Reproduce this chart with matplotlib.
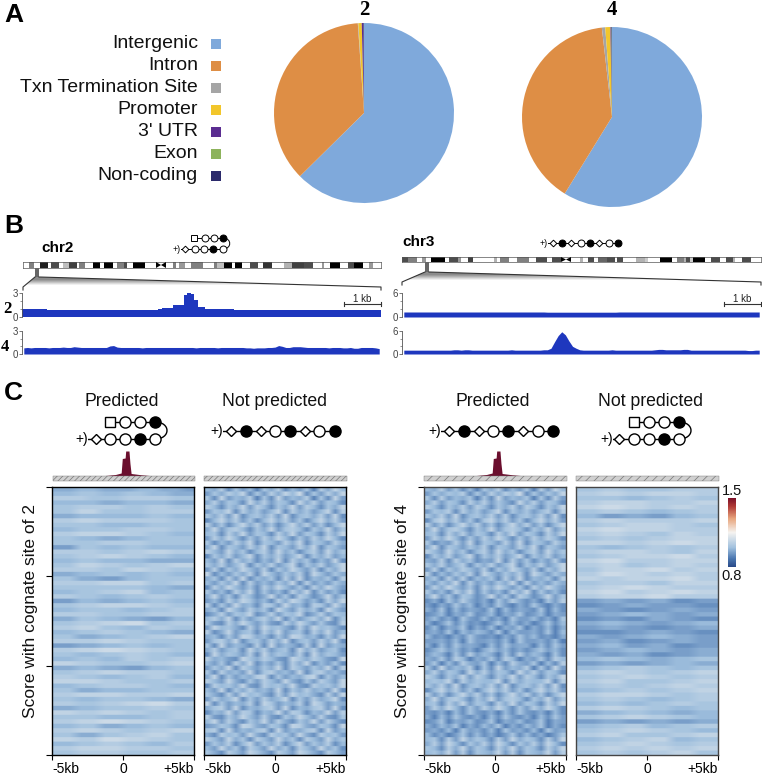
import matplotlib
matplotlib.use("Agg")
import matplotlib.pyplot as plt
import numpy as np
from matplotlib.colors import LinearSegmentedColormap
from matplotlib.patches import Rectangle, PathPatch, Polygon
from matplotlib.path import Path
from matplotlib.transforms import ScaledTranslation

plt.rcParams['font.family'] = ['Liberation Sans', 'DejaVu Sans']
plt.rcParams['hatch.linewidth'] = 0.5

W, H = 762, 777

# panel A
pie_labels = ["Intergenic", "Intron", "Txn Termination Site", "Promoter", "3' UTR", "Exon", "Non-coding"]
pie_colors = ["#7FA9DB", "#DE8E45", "#A5A5A5", "#F2C62B", "#5B2D91", "#8DB35C", "#2B2A6B"]
pie_2 = [62.6, 36.3, 0.1, 0.6, 0.3, 0.0, 0.1]
pie_4 = [58.8, 39.4, 0.6, 0.9, 0.1, 0.1, 0.1]

# panel B, coverage in 100 bins over the 10 kb window
cov_chr2_2 = [0.95, 0.95, 0.95, 0.95, 0.95, 0.95, 0.95, 0.9, 0.85, 0.85,
              0.85, 0.85, 0.85, 0.85, 0.85, 0.85, 0.85, 0.85, 0.9, 0.9,
              0.9, 0.9, 0.9, 0.9, 0.9, 0.9, 0.9, 0.9, 0.9, 0.9,
              0.9, 0.9, 0.9, 0.9, 0.9, 0.9, 0.9, 0.9, 1.0, 1.1,
              1.1, 1.1, 1.45, 1.45, 1.45, 2.8, 3.05, 2.9, 2.1, 1.2,
              1.2, 0.95, 0.95, 0.95, 0.95, 0.95, 0.95, 0.95, 0.95, 0.9,
              0.9, 0.85, 0.85, 0.85, 0.85, 0.85, 0.85, 0.85, 0.85, 0.85,
              0.85, 0.85, 0.85, 0.85, 0.85, 0.85, 0.85, 0.85, 0.85, 0.85,
              0.85, 0.85, 0.85, 0.85, 0.85, 0.85, 0.85, 0.85, 0.85, 0.85,
              0.85, 0.85, 0.85, 0.85, 0.85, 0.85, 0.85, 0.85, 0.85, 0.85]
cov_chr2_4 = [0.8, 0.85, 0.8, 0.85, 0.85, 0.85, 0.85, 0.8, 0.85, 0.85,
              0.85, 0.9, 0.85, 0.85, 0.95, 0.9, 0.85, 0.85, 0.85, 0.85,
              0.85, 0.85, 0.85, 0.85, 1.05, 1.1, 0.9, 0.85, 0.85, 0.85,
              0.85, 0.85, 0.85, 0.8, 0.85, 0.85, 0.85, 0.85, 0.85, 0.85,
              0.85, 0.85, 0.85, 0.85, 0.85, 0.85, 0.85, 0.85, 0.8, 0.85,
              0.85, 0.85, 0.85, 0.85, 0.8, 0.85, 0.85, 0.85, 0.85, 0.85,
              0.85, 0.85, 0.8, 0.8, 0.75, 0.8, 0.8, 0.8, 0.85, 0.85,
              0.9, 1.1, 1.0, 0.85, 0.85, 0.95, 0.95, 0.95, 0.9, 0.85,
              0.85, 0.85, 0.85, 0.85, 0.85, 0.8, 0.85, 0.85, 0.85, 0.8,
              0.8, 0.85, 0.75, 0.75, 0.85, 0.85, 0.85, 0.85, 0.8, 0.7]
cov_chr3_2 = [1.25, 1.25, 1.25, 1.25, 1.25, 1.25, 1.25, 1.25, 1.25, 1.25,
              1.25, 1.25, 1.25, 1.25, 1.25, 1.25, 1.25, 1.25, 1.25, 1.25,
              1.25, 1.25, 1.25, 1.25, 1.25, 1.25, 1.25, 1.25, 1.25, 1.25,
              1.25, 1.25, 1.25, 1.25, 1.25, 1.25, 1.25, 1.25, 1.25, 1.25,
              1.2, 1.2, 1.2, 1.2, 1.2, 1.2, 1.2, 1.2, 1.2, 1.2,
              1.2, 1.2, 1.2, 1.2, 1.2, 1.2, 1.2, 1.2, 1.2, 1.2,
              1.25, 1.25, 1.25, 1.25, 1.25, 1.25, 1.25, 1.25, 1.25, 1.25,
              1.25, 1.25, 1.25, 1.25, 1.25, 1.25, 1.25, 1.25, 1.25, 1.25,
              1.25, 1.25, 1.25, 1.25, 1.25, 1.25, 1.25, 1.25, 1.25, 1.25,
              1.25, 1.25, 1.25, 1.25, 1.25, 1.25, 1.25, 1.25, 1.25, 1.25]
cov_chr3_4 = [1.0, 1.0, 1.0, 1.0, 1.0, 1.0, 1.0, 1.0, 1.0, 1.0,
              1.0, 1.0, 1.0, 1.0, 1.1, 1.1, 1.0, 1.1, 1.1, 1.0,
              1.0, 1.0, 1.0, 1.0, 1.0, 1.0, 1.0, 1.0, 1.0, 1.0,
              1.1, 1.0, 1.0, 1.0, 1.0, 1.0, 1.0, 1.0, 1.0, 1.1,
              1.1, 1.5, 3.2, 4.8, 5.8, 5.0, 3.4, 2.0, 1.5, 1.1,
              1.0, 1.0, 1.0, 1.0, 1.0, 1.0, 1.0, 1.0, 1.1, 1.0,
              1.0, 1.0, 1.0, 1.0, 1.0, 1.0, 1.0, 1.0, 1.0, 1.0,
              1.1, 1.2, 1.2, 1.1, 1.1, 1.1, 1.1, 1.1, 1.2, 1.2,
              1.0, 1.0, 1.0, 1.0, 1.0, 1.0, 1.0, 1.0, 1.0, 1.0,
              1.0, 1.0, 1.0, 1.0, 1.0, 1.0, 0.9, 0.9, 1.0, 1.0]

# ideogram bands, edge positions and grey shade (1 is white)
chr2_edges = [69, 88, 103, 120, 145, 153, 177, 190, 207, 230, 238, 254, 280, 300, 311, 338, 352, 372, 380, 399, 435, 468,
              495, 520, 527, 538, 555, 573, 607, 642, 650, 672, 696, 703, 725, 750, 773, 788, 816, 852, 874,
              912, 938, 965, 972, 989, 1019, 1044, 1062, 1087, 1107, 1117, 1142]
chr2_shades = [1, .5, 1, .12, 1, .3, 1, .75, .25, 1, .5, 1, 0, 1, 0, 1, .5, .3, 1, 0, 1, 1,
               1, .5, 1, .6, 1, .5, 1, .5, .75, 0, 1, 0, 1, .3, 1, .2, 1, .7, .25,
               .3, 1, .6, 1, 0, 1, .3, 0, 1, .6, 1]
chr3_edges = [37, 55, 83, 97, 110, 125, 165, 178, 204, 215, 235, 249, 275, 312, 320, 331, 356, 382, 417, 438, 470, 487, 512,
              545, 570, 578, 594, 612, 624, 652, 674, 680, 700, 737, 764, 774, 790, 811, 845, 861, 880, 888, 898, 908, 945, 963, 990,
              1007, 1029, 1035, 1055, 1081, 1112]
chr3_shades = [.3, .5, 1, .6, 1, 0, 1, .3, .6, 1, .25, 1, 1, .7, 1, .5, 1, .5, 1, .3, 1, .3, 1,
               1, .7, 1, .3, 1, .4, .3, 1, .3, 1, .7, .8, 1, 1, 0, 1, .5, .7, .3, .8, 0, 1, .3, 1,
               .3, .7, 1, .3, 1]

# panel C, enrichment profile above the heatmaps
prof_x = [-5, -1.5, -0.6, -0.2, -0.12, 0.08, 0.12, 0.35, 0.42, 0.5, 1.2, 2, 5]
prof_y = [0, 0.01, 0.06, 0.12, 0.7, 0.72, 1.0, 1.0, 0.5, 0.1, 0.05, 0.01, 0]

# heatmap rows, one digit per cell, score = 0.88 + digit * 0.022
heat_a = ["445544455443", "556655665544", "777666777766", "555544555544", "667777667766", "668866667777",
          "445555556655", "778877777766", "666655556666", "556666777766", "778888776655", "665544556666",
          "666677776666", "336655665555", "777766778877", "667788776655", "556655554444", "668877667788",
          "777766887766", "445566556655", "664433556666", "777788886677", "666666665544", "556677885566",
          "776655667766", "335544556655", "667788887766", "556666556677", "777766667777", "446655443355",
          "667788996677", "778866557766", "556677665544", "664455667788", "777788776666", "334455665566",
          "778899887766", "665566776655", "556655776677", "887766667788", "445544335566", "667788777766",
          "776655667755", "888877666677", "556677776655", "664455556666", "778888777788", "665566665544",
          "776677889977", "445566667766", "887788776677", "666655556677", "778899887766", "556644556655",
          "778877667788", "664466778866", "887799887766", "556677665577", "778888777766", "667777666677"]
heat_b = ["54726351647253617485", "36475826374859263748", "62835471628354716283", "47365284736528473652",
          "75264837526483752648", "36582746358274635827", "64738256473825647382", "25847362584736258473",
          "73625847362584736258", "48367526483675264836", "56274836527483652748", "37485263748526374852",
          "62537482653748265374", "48265374826537482653", "75384625738462573846", "26473582647358264735",
          "53827462538274625382", "64735826473582647358", "37264853726485372648", "82536472853647285364",
          "46273825462738254627", "53648273536482735364", "27485362748536274853", "63527482635274826352",
          "48362752483627524836", "35274863527486352748", "72638452763845276384", "46285374628537462853",
          "24736582473658247365", "57482635748263574826", "63274853632748536327", "38564273856427385642",
          "72483562748356274835", "45263874526387452638", "36748256374825637482", "62835427283542728354",
          "47356284735628473562", "28465372846537284653", "74532864753286475328", "53627482536274825362",
          "36482753648275364827", "62745382674538267453", "48263547826354782635", "75384263753842637538",
          "27564832756483275648", "53826474538264745382", "64273856427385642738", "37458263745826374582",
          "82635472863547286354", "46738254673825467382", "25483762548376254837", "73264853732648537326",
          "58374264837426483742", "34652874365287436528", "67283546728354672835", "42756384275638427563",
          "75384627538462753846", "36472583647258364725", "53846275384627538462", "64275386427538642753"]
heat_c = ["54736251647253617385", "36465726374759263648", "62735461628354616273", "47365274736428473652",
          "75264737526473752648", "36572746358264635727", "64738256473725647382", "26847362684736258473",
          "73625847362584736258", "48367526483675264836", "56274736527483652748", "37485263748526374752",
          "62437382653738265374", "48265364726537482653", "75384625738462573846", "26473582647358264735",
          "43727462438273625372", "64735726473582647358", "37264753726485372648", "72536472853647285364",
          "46273725462738254627", "53648273536482735364", "37485362748536274853", "63527482635274826352",
          "48362652483627524836", "24163742416374241637", "31426351426314263142", "42615243261524326152",
          "23514362351436235143", "35241632524163352416", "41362523136252413625", "25143614251436142514",
          "34261535426153342615", "52314263231426352314", "33425163342516334251", "41526343152634415263",
          "24635241463524246352", "35416273541627354162", "43627514362751436275", "36152743615274361527",
          "62835471628354716283", "47365284736528473652", "75264837526483752648", "56582746558274655827",
          "64738256473825647382", "25847362584736258473", "73625847362584736258", "48367526483675264836",
          "56274836527483652748", "37485263748526374852", "32415263241526324152", "41526324152632415263",
          "23614352361435236143", "42536142536142536142", "34251634251634251634", "52413625241362524136",
          "56273846527384652738", "47385264738526473852", "65274836527483652748", "56483726548372654837"]
heat_d = ["667766667777", "778877888877", "666655667766", "778888777788", "889988778877", "667766556677",
          "553344335566", "778877777788", "667788887766", "889988887777", "778877668877", "667766778888",
          "888877889988", "665566776677", "778888776688", "667788889977", "889977778888", "778866778877",
          "668888997788", "779988778877", "887788889977", "667777668888", "778899887777", "889977889988",
          "778888997777", "334433442233", "223344333322", "443322334433", "334455443344", "223322443322",
          "445544334455", "334433223344", "222233443322", "443344554433", "334422334433", "445533442233",
          "334455443344", "443344223344", "556655445566", "334433445544", "556677665566", "778877667788",
          "667788776677", "778866667788", "667766778877", "556677667788", "778888776677", "667766556677",
          "556655667766", "778877665566", "445566554455", "667788776655", "334433443344", "556677556677",
          "667788776655", "778866667788", "556677885566", "667788776677", "778877887788", "667766778866"]

heat_ticks = [-5, 0, 5]
heat_ticklabels = ["-5kb", "0", "+5kb"]

heat_cmap = LinearSegmentedColormap.from_list("score", [(0, "#2a4a88"), (0.12, "#4a76b0"), (0.28, "#a0c0de"),
                                                        (0.5, "#f5f3f0"), (0.7, "#e8a67e"), (0.88, "#b03a36"),
                                                        (1, "#7a0f28")])


def add_ax(x0, y0, x1, y1):
    # axes from pixel corners of the picture
    return fig.add_axes([x0 / W, 1 - y1 / H, (x1 - x0) / W, (y1 - y0) / H])


def draw_pie(vals, cx, cy, r=90):
    ax = add_ax(cx - r, cy - r, cx + r, cy + r)
    ax.pie(vals, colors=pie_colors, startangle=90, counterclock=False, radius=1)
    ax.set_xlim(-1, 1)
    ax.set_ylim(-1, 1)


def draw_track(vals, x0, y0, ymax, ytop, steps=False):
    ax = add_ax(x0, ytop, x0 + 359, y0)
    if steps:
        pos = np.arange(len(vals) + 1) / 10
        ax.fill_between(pos, list(vals) + [vals[-1]], step='post', color="#1E37BE", lw=0)
    else:
        pos = (np.arange(len(vals)) + 0.5) / 10
        ax.fill_between(pos, vals, color="#1E37BE", lw=0)
    ax.set_xlim(0, 10)
    ax.set_ylim(0, ymax)
    ax.patch.set_alpha(0)
    for s in ['top', 'right', 'bottom']:
        ax.spines[s].set_visible(False)
    ax.spines['left'].set_color("#555555")
    ax.spines['left'].set_linewidth(0.6)
    ax.set_xticks([])
    ax.set_yticks([0, ymax])
    ax.set_yticks(np.arange(0, ymax, ymax / 3), minor=True)
    ax.tick_params(axis='y', length=2, width=0.5, labelsize=7, pad=1, colors="#444444")
    ax.tick_params(axis='y', which='minor', length=1.2, width=0.4, colors="#444444")


def draw_ideogram(edges, shades, x0, y0, x1, y1):
    ax = add_ax(x0, y0, x1, y1)
    for i in range(len(shades)):
        ax.broken_barh([(edges[i], edges[i + 1] - edges[i])], (0, 1), facecolor=str(shades[i]), edgecolor='none')
    ax.set_xlim(edges[0], edges[-1])
    ax.set_ylim(0, 1)
    ax.set_xticks([])
    ax.set_yticks([])
    for s in ax.spines.values():
        s.set_linewidth(0.5)
        s.set_color("#555555")


def draw_glycan(xs, kinds, y, ms, lw=1.0):
    ov.plot(xs, [y] * len(xs), color='k', lw=lw, zorder=2)
    for x, k in zip(xs, kinds):
        if k == 's':
            ov.plot(x, y, 's', mfc='w', mec='k', ms=ms * 0.95, mew=lw, zorder=3)
        elif k == 'd':
            ov.plot(x, y, 'D', mfc='w', mec='k', ms=ms * 0.68, mew=lw, zorder=3)
        elif k == 'f':
            ov.plot(x, y, 'o', mfc='k', mec='k', ms=ms, mew=lw, zorder=3)
        elif k == 'o':
            ov.plot(x, y, 'o', mfc='w', mec='k', ms=ms, mew=lw, zorder=3)


def glycan_end(x, y, ms):
    ov.text(x, y, "+)", ha='center', va='center', fontsize=ms * 1.25, color='k', zorder=4,
            bbox=dict(fc='w', ec='none', pad=0))


def glycan_loop(x, y1, y2, bulge, lw=1.0):
    p = Path([(x, y1), (x + bulge, y1), (x + bulge, y2), (x, y2)],
             [Path.MOVETO, Path.CURVE4, Path.CURVE4, Path.CURVE4])
    ov.add_patch(PathPatch(p, fc='none', ec='k', lw=lw, zorder=1))


def draw_heat(rows, x0, x1, left_ticks=False, edge='k'):
    ax = add_ax(x0, 487, x1, 755)
    data = np.array([[0.88 + int(c) * 0.022 for c in r] for r in rows])
    # repeat rows so the bilinear blur only runs along the row, keeps the stripes crisp
    im = ax.imshow(np.repeat(data, 6, axis=0), aspect='auto', cmap=heat_cmap, vmin=0.8, vmax=1.5,
                   interpolation='bilinear', extent=[-5, 5, len(rows), 0])
    ax.set_xticks(heat_ticks)
    labs = ax.set_xticklabels(heat_ticklabels, fontsize=10)
    # the end labels sit inside the panel edges so neighbours do not collide
    labs[0].set_ha('left')
    labs[0].set_transform(labs[0].get_transform() + ScaledTranslation(-0.03, 0, fig.dpi_scale_trans))
    labs[2].set_ha('right')
    labs[2].set_transform(labs[2].get_transform() + ScaledTranslation(0.04, 0, fig.dpi_scale_trans))
    ax.tick_params(axis='x', length=3.5, width=0.8, pad=1.5)
    if left_ticks:
        ax.set_yticks([0, 20, 40, 60])
        ax.set_yticklabels([])
        ax.tick_params(axis='y', length=4, width=0.8)
    else:
        ax.set_yticks([])
    for s in ax.spines.values():
        s.set_linewidth(1)
        s.set_color(edge)
    return im


def draw_profile(x0, x1):
    ax = add_ax(x0, 451, x1, 476)
    ax.fill_between(prof_x, prof_y, color="#6B0F2E", lw=0)
    ax.set_xlim(-5, 5)
    ax.set_ylim(0, 1)
    ax.axis('off')


def hatch_bar(x0, x1, dense):
    ov.add_patch(Rectangle((x0, 476), x1 - x0, 5, facecolor="#D0D0D0", edgecolor="#777777", lw=0.3,
                           hatch='//////' if dense else '////'))


fig = plt.figure(figsize=(W / 100, H / 100), dpi=100)

draw_pie(pie_2, 364, 113)
draw_pie(pie_4, 612, 117)

draw_track(cov_chr2_2, 22, 317, 3, 293, steps=True)
draw_track(cov_chr2_4, 22, 354, 3, 331)
draw_track(cov_chr3_2, 402, 317, 6, 293)
draw_track(cov_chr3_4, 402, 354, 6, 331)

draw_ideogram(chr2_edges, chr2_shades, 23, 262, 381, 268)
draw_ideogram(chr3_edges, chr3_shades, 402, 257, 761, 262)

im = draw_heat(heat_a, 52, 194, left_ticks=True)
draw_heat(heat_b, 204, 346)
draw_heat(heat_c, 424, 566, left_ticks=True, edge="#444444")
draw_heat(heat_d, 576, 718, edge="#444444")

draw_profile(53, 195)
draw_profile(424, 566)

cax = add_ax(728, 498, 736, 567)
cb = fig.colorbar(im, cax=cax)
cb.set_ticks([])
cb.outline.set_visible(False)

# overlay in picture pixels for labels, glycans and zoom wedges
ov = fig.add_axes([0, 0, 1, 1], zorder=5)
ov.patch.set_alpha(0)
ov.axis('off')

gy = np.array([[0.55], [1.0]])
for pts, xr, ytop, ybot in [([(39, 277), (381, 287.5), (23, 287.5), (35, 277)], (23, 381), 277, 288),
                            ([(429, 272), (761, 282), (402, 282), (425, 272)], (402, 761), 272, 283)]:
    g = ov.imshow(gy, cmap='gray', vmin=0, vmax=1, aspect='auto', extent=[xr[0], xr[1], ybot, ytop],
                  interpolation='bilinear', zorder=1)
    g.set_clip_path(Polygon(pts, transform=ov.transData))
ov.set_xlim(0, W)
ov.set_ylim(H, 0)

for x0, x1, y0, y1, y2, m0, m1 in [(23, 381, 268, 277, 287, 35, 39), (402, 761, 262, 272, 282, 425, 429)]:
    ov.add_patch(Rectangle((m0, y0), m1 - m0, y1 - y0, facecolor="#666666", edgecolor='none', zorder=2))
    ov.plot([x0, x0, m0], [y2 + 3, y2, y1], color="#333333", lw=0.8)
    ov.plot([m1, x1, x1], [y1, y2, y2 + 3], color="#333333", lw=0.8)

# centromere triangles
ov.add_patch(Polygon([(156, 262), (161, 265), (156, 268)], closed=True, fc='k', ec='none', zorder=3))
ov.add_patch(Polygon([(166, 262), (161, 265), (166, 268)], closed=True, fc='k', ec='none', zorder=3))
ov.add_patch(Polygon([(561, 257), (566, 259.5), (561, 262)], closed=True, fc='k', ec='none', zorder=3))
ov.add_patch(Polygon([(571, 257), (566, 259.5), (571, 262)], closed=True, fc='k', ec='none', zorder=3))

for x, t, y in [(4, "A", 15), (4, "B", 226), (4, "C", 393)]:
    ov.text(x, y, t, fontsize=19, fontweight='bold', ha='left', va='center')

for i, lab in enumerate(pie_labels):
    y = 44 + i * 22
    ov.text(198, y, lab, fontsize=14, ha='right', va='center', color="#111111")
    ov.add_patch(Rectangle((211, y - 5), 10, 10, facecolor=pie_colors[i], edgecolor='none'))

serif = ['Liberation Serif', 'DejaVu Serif']
ov.text(364, 10, "2", fontsize=15, fontweight='bold', family=serif, ha='center', va='center')
ov.text(612, 10, "4", fontsize=15, fontweight='bold', family=serif, ha='center', va='center')
ov.text(7, 309, "2", fontsize=12, fontweight='bold', family=serif, ha='center', va='center')
ov.text(5, 347, "4", fontsize=12, fontweight='bold', family=serif, ha='center', va='center')

ov.text(41, 248, "chr2", fontsize=11, fontweight='bold', ha='left', va='center')
ov.text(402, 242, "chr3", fontsize=11, fontweight='bold', ha='left', va='center')

for x0, x1 in [(344, 381), (724, 761)]:
    ov.plot([x0, x1], [304, 304], color="#333333", lw=0.8)
    ov.plot([x0, x0], [302, 306], color="#333333", lw=0.8)
    ov.plot([x1, x1], [302, 306], color="#333333", lw=0.8)
    ov.text((x0 + x1) / 2, 299, "1 kb", fontsize=7, ha='center', va='center', color="#222222")

# small glycans of panel B
glycan_loop(223, 238, 249, 9, 0.7)
draw_glycan([194, 204.5, 214, 223], "soof", 238, 5, 0.7)
draw_glycan([176, 185, 195, 204, 213, 223], "ndoofo", 249, 5, 0.7)
glycan_end(177, 249, 5)
draw_glycan([543, 553, 562, 571, 581, 590, 599, 609, 618], "ndfdofdof", 243, 5, 0.7)
glycan_end(544, 243, 5)

# large glycans of panel C
for t, x in [("Predicted", 122), ("Not predicted", 275), ("Predicted", 493), ("Not predicted", 650)]:
    ov.text(x, 401, t, fontsize=12.7, ha='center', va='center', color="#111111")

glycan_loop(155, 422, 439, 16)
draw_glycan([110, 125, 140, 155], "soof", 422, 8)
draw_glycan([84, 96, 110, 125, 140, 155], "ndoofo", 439, 8)
glycan_end(82, 439, 8)
draw_glycan([219, 231, 246, 261, 275, 290, 305, 319, 335], "ndfdofdof", 431, 8)
glycan_end(217, 431, 8)
draw_glycan([437, 449, 464, 479, 493, 508, 523, 538, 553], "ndfdofdof", 431, 8)
glycan_end(435, 431, 8)
glycan_loop(679, 422, 439, 16)
draw_glycan([634, 649, 664, 679], "soof", 422, 8)
draw_glycan([609, 619, 634, 649, 664, 679], "ndoofo", 439, 8)
glycan_end(607, 439, 8)

hatch_bar(53, 195, True)
hatch_bar(204, 347, True)
hatch_bar(424, 567, False)
hatch_bar(576, 719, False)

ov.text(31, 611, "Score with cognate site of 2", rotation=90, fontsize=12.5, ha='center', va='center', color="#111111")
ov.text(403, 611, "Score with cognate site of 4", rotation=90, fontsize=12.5, ha='center', va='center', color="#111111")
ov.text(732, 491, "1.5", fontsize=10.5, ha='center', va='center', color="#111111")
ov.text(732, 576, "0.8", fontsize=10.5, ha='center', va='center', color="#111111")

fig.savefig("out.png", dpi=100)
